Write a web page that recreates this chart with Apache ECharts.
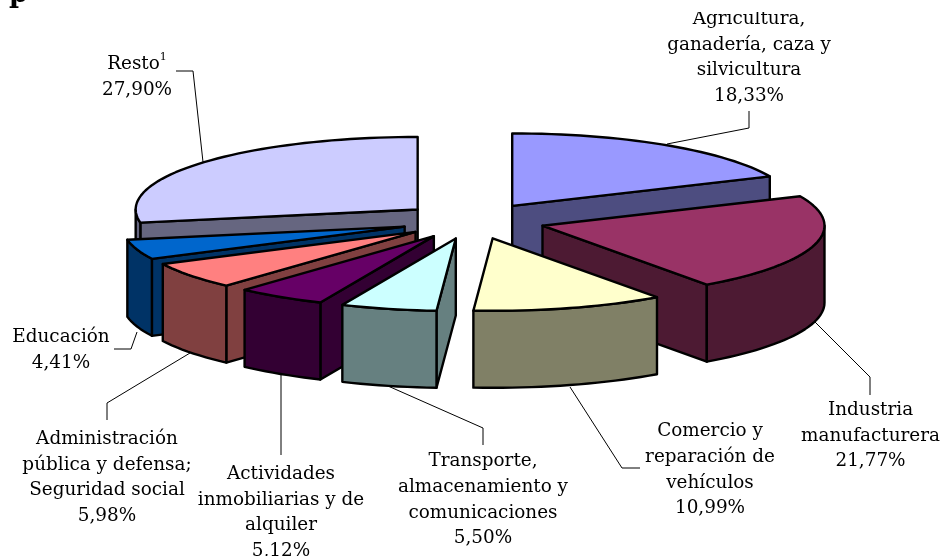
<!DOCTYPE html>
<html><head><meta charset="utf-8">
<style>html,body{margin:0;padding:0;background:#fff}#c{width:944px;height:556px}</style>
<script src="https://cdn.jsdelivr.net/npm/echarts@6/dist/echarts.min.js"></script>
</head><body><div id="c"></div>
<script>
const categories = ['Agricultura, ganadería, caza y silvicultura','Industria manufacturera','Comercio y reparación de vehículos','Transporte, almacenamiento y comunicaciones','Actividades inmobiliarias y de alquiler','Administración pública y defensa; Seguridad social','Educación','Resto'];
const values = [18.33,21.77,10.99,5.50,5.12,5.98,4.41,27.90];
const topColors = ['#9999FF','#993366','#FFFFCC','#CCFFFF','#660066','#FF8080','#0066CC','#CCCCFF'];
const wallColors = ['#4D4D80','#4D1A33','#808066','#668080','#330033','#804040','#003366','#666680'];

// Label layout (annotation only, separate from the data)
const labelLayout = [
  {lines:['Agricultura,','ganadería, caza y','silvicultura'], x:749, y:19, leader:[[749,111],[749,128],[667,144]]},
  {lines:['Industria','manufacturera'], x:870.5, y:410, leader:[[815,322],[870,377],[870,395]]},
  {lines:['Comercio y','reparación de','vehículos'], x:710, y:431.5, leader:[[570,387],[622,468],[640,468]]},
  {lines:['Transporte,','almacenamiento y','comunicaciones'], x:483, y:461.5, leader:[[388,386],[483,428],[483,445]]},
  {lines:['Actividades','inmobiliarias y de','alquiler'], x:281, y:474, leader:[[281,375],[281,455]]},
  {lines:['Administración','pública y defensa;','Seguridad social'], x:107, y:439, leader:[[190,353],[107,403],[107,420]]},
  {lines:['Educación'], x:61, y:337, leader:[[137,332],[131,349],[114,349]]},
  {lines:['{n|Resto}{s|1}'], x:137, y:64, leader:[[176,71],[193,71],[203,162]]}
];

const cx=473, cy=221, Rx=282, Ry=72.5, ex=72, ey=18, H=77;
const FONT='"DejaVu Serif"', FS=18.4, LH=25.7;
const total = values.reduce((a,b)=>a+b,0);
const rad = d=>d*Math.PI/180;

let acc=0;
const slices = values.map((v,i)=>{ const s=acc/total*360; acc+=v; return {i,v,s,e:acc/total*360}; });
const drawn = slices.slice().sort((a,b)=>(-Math.cos(rad((a.s+a.e)/2)))-(-Math.cos(rad((b.s+b.e)/2))));

function poly(points,fill,z2){
  return {type:'polygon',z2,shape:{points},style:{fill,stroke:'#000',lineWidth:2.4,lineJoin:'round'}};
}
function renderItem(params,api){
  const i=api.value(0), s=api.value(1), e=api.value(2);
  const mid=rad((s+e)/2);
  const ax=cx+ex*Math.sin(mid), ay=cy-ey*Math.cos(mid);
  const pt=(t,h)=>[ax+Rx*Math.sin(rad(t)), ay-Ry*Math.cos(rad(t))+(h||0)];
  const arc=(a,b,h)=>{const n=Math.max(2,Math.ceil((b-a)/2)),o=[];for(let k=0;k<=n;k++)o.push(pt(a+(b-a)*k/n,h));return o;};
  const apexTop=[ax,ay], apexBot=[ax,ay+H];
  const base=params.dataIndex*10, ch=[];
  if(Math.sin(rad(s))<-1e-6) ch.push(poly([apexTop,pt(s),pt(s,H),apexBot],wallColors[i],base+1));
  if(Math.sin(rad(e))>1e-6) ch.push(poly([apexTop,pt(e),pt(e,H),apexBot],wallColors[i],base+1));
  const a=Math.max(s,90), b=Math.min(e,270);
  if(b>a) ch.push(poly(arc(a,b,0).concat(arc(a,b,H).reverse()),wallColors[i],base+2));
  ch.push(poly([apexTop].concat(arc(s,e,0)),topColors[i],base+3));
  return {type:'group',children:ch};
}

const txt={fontFamily:FONT,fontSize:FS,fill:'#000',lineHeight:LH,align:'center',verticalAlign:'top',
  rich:{n:{fontFamily:FONT,fontSize:FS,lineHeight:LH},s:{fontFamily:FONT,fontSize:11,verticalAlign:'top',lineHeight:16,padding:[0,0,8,0]}}};
const graphics=[];
labelLayout.forEach((l,i)=>{
  const pct=values[i].toFixed(2).replace('.',',')+'%';
  graphics.push({type:'text',z:50,x:l.x,y:l.y-12.75,style:Object.assign({},txt,{text:l.lines.concat([pct]).join('\n')})});
  graphics.push({type:'polyline',z:40,shape:{points:l.leader},style:{stroke:'#000',lineWidth:1,fill:null}});
});
graphics.push({type:'text',z:50,x:9,y:-19,style:{text:'p',fontFamily:FONT,fontWeight:'bold',fontSize:27,fill:'#000'}});
graphics.push({type:'rect',z:60,shape:{x:640,y:0,width:220,height:12},style:{fill:'#fff'}});

const chart=echarts.init(document.getElementById('c'));
chart.setOption({
  animation:false,
  backgroundColor:'#fff',
  series:[{type:'custom',coordinateSystem:'none',renderItem,silent:true,clip:false,
    encode:{value:[0,1,2]},
    data:drawn.map(d=>[d.i,d.s,d.e,d.v])}],
  graphic:{elements:graphics}
});
</script></body></html>
